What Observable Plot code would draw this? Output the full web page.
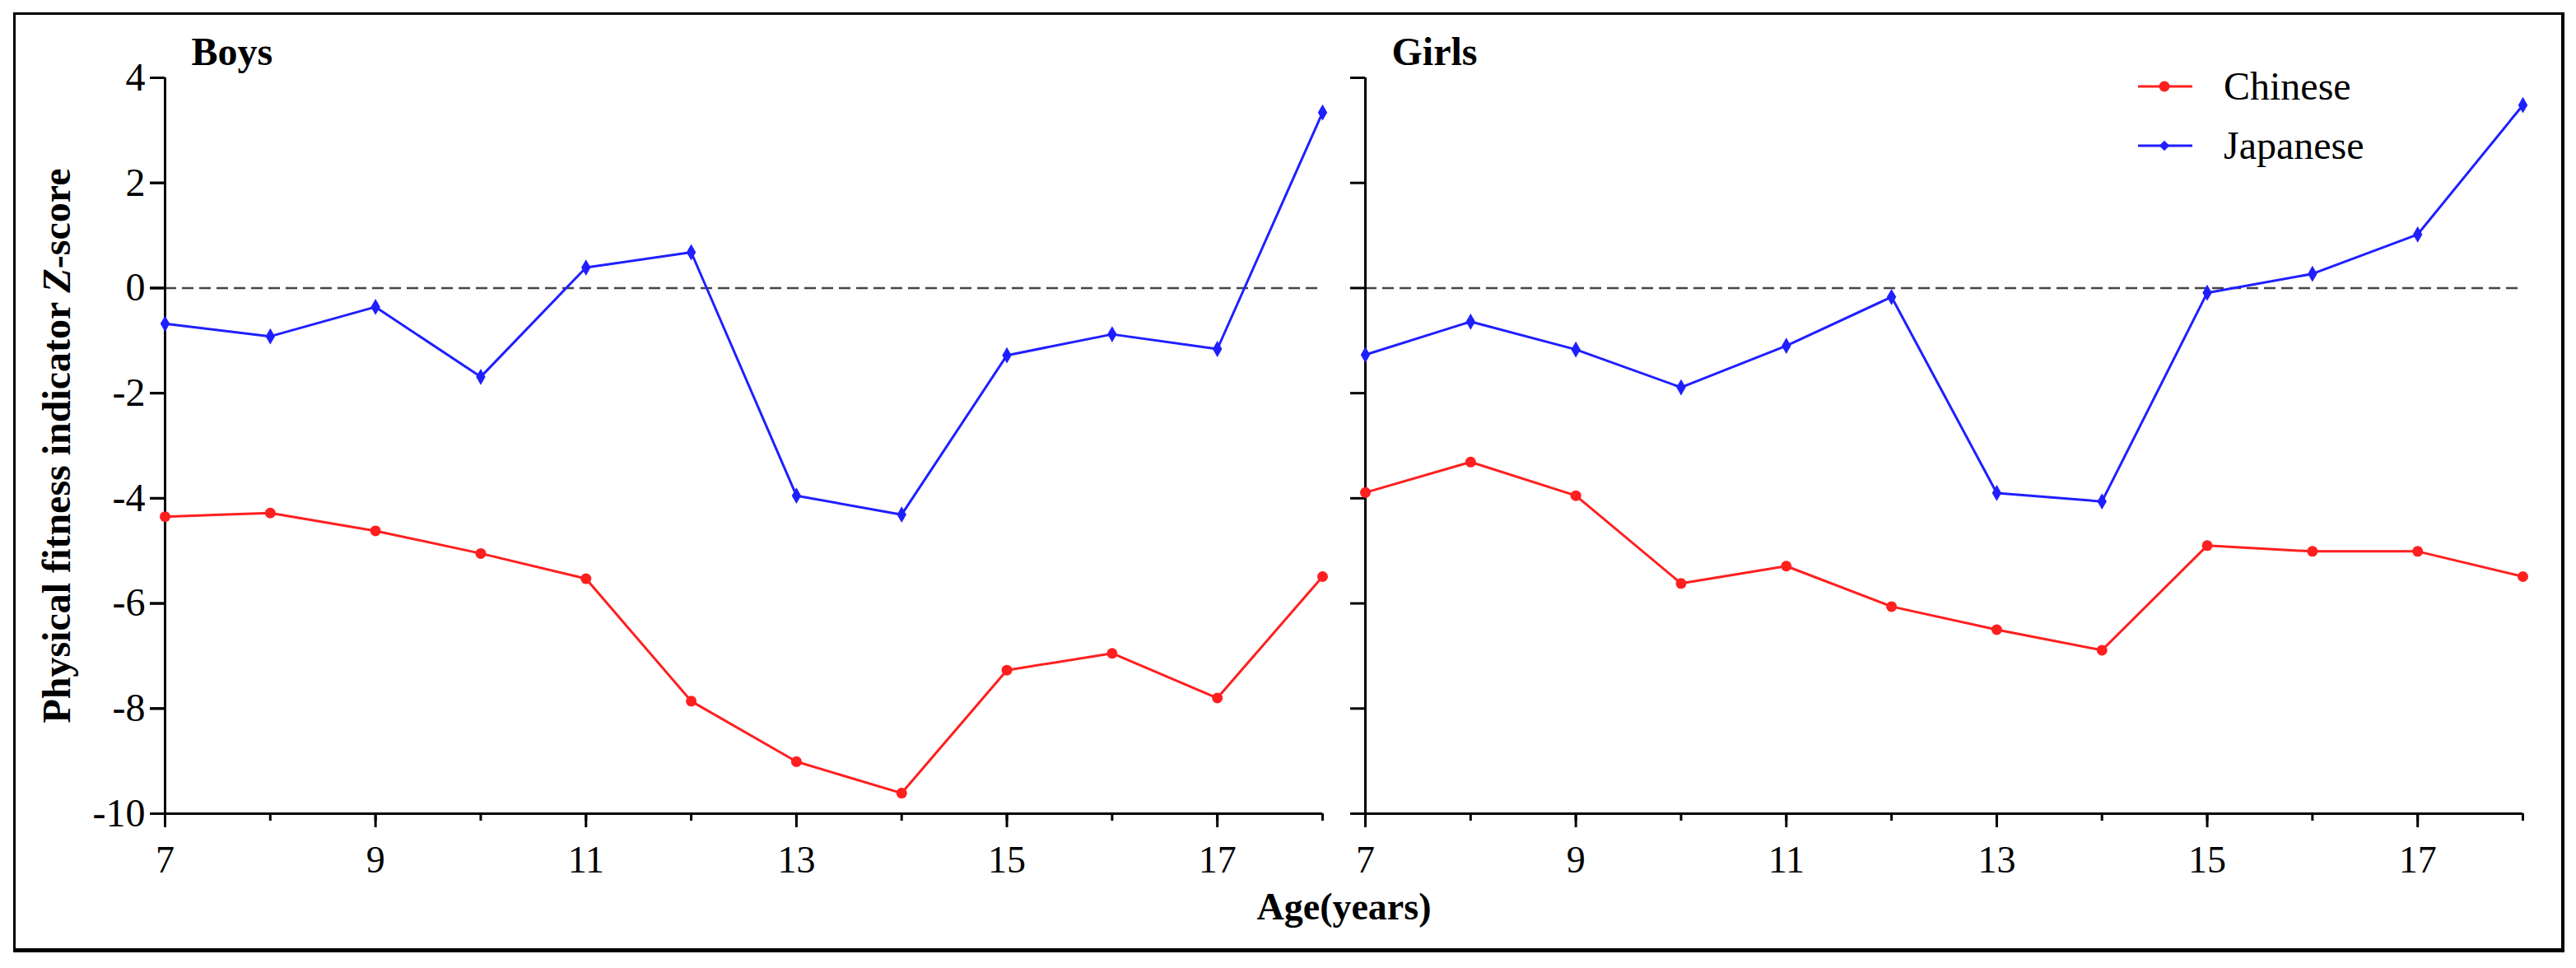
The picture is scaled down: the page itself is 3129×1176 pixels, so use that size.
<!DOCTYPE html>
<html>
<head>
<meta charset="utf-8">
<script src="https://cdn.jsdelivr.net/npm/d3@7"></script>
<script src="https://cdn.jsdelivr.net/npm/@observablehq/plot@0.6"></script>
<style>
  body { margin: 0; background: #fff; }
  #wrap { position: relative; width: 3129px; height: 1176px; font-family: "Liberation Serif", serif; background:#fff; }
  #wrap svg { position: absolute; left: 0; top: 0; }
  #border { position: absolute; left: 16px; top: 15px; width: 3092px; height: 1134px; border: 3px solid #000; border-bottom-width: 5px; border-right-width: 4px; pointer-events: none; }
  #legend { position: absolute; left: 2597px; top: 69px; font-size: 48px; line-height: 72px; font-family: "Liberation Serif", serif; }
  #legend .row { display: flex; align-items: center; height: 72px; }
  #legend svg { position: static; margin-right: 38px; }
</style>
</head>
<body>
<div id="wrap"><div id="border"></div><div id="legend"></div></div>
<script>
// ---- data ----
const ages = [7, 8, 9, 10, 11, 12, 13, 14, 15, 16, 17, 18];
const panels = ["Boys", "Girls"];
const series = ["Chinese", "Japanese"];
const seriesColors = ["#ff1f1f", "#1f1fff"];
const boysChinese   = [-4.35, -4.28, -4.62, -5.05, -5.53, -7.86, -9.01, -9.61, -7.27, -6.95, -7.80, -5.49];
const boysJapanese  = [-0.68, -0.92, -0.36, -1.69, 0.39, 0.68, -3.95, -4.31, -1.28, -0.88, -1.16, 3.34];
const girlsChinese  = [-3.89, -3.31, -3.95, -5.62, -5.29, -6.06, -6.50, -6.89, -4.90, -5.01, -5.01, -5.49];
const girlsJapanese = [-1.27, -0.64, -1.17, -1.89, -1.10, -0.17, -3.90, -4.06, -0.09, 0.27, 1.02, 3.48];
const yTicks = [-10, -8, -6, -4, -2, 0, 2, 4];
const xTickLabels = [7, 9, 11, 13, 15, 17];
const yLabelParts = ["Physical fitness indicator ", "Z", "-score"];
const yLabel = yLabelParts.join("");
const xLabel = "Age(years)";

const table = [
  ["Boys", "Chinese", boysChinese],
  ["Boys", "Japanese", boysJapanese],
  ["Girls", "Chinese", girlsChinese],
  ["Girls", "Japanese", girlsJapanese]
];
const rows = table.flatMap(([panel, s, vals]) => ages.map((age, i) => ({panel, series: s, age, value: vals[i]})));

const font = '"Liberation Serif", serif';
const plain = d => String(d);

const chart = Plot.plot({
  width: 3129,
  height: 1176,
  marginLeft: 200,
  marginRight: 65,
  marginTop: 94,
  marginBottom: 188,
  style: {fontFamily: font, fontSize: "46px", color: "#000", background: "transparent", overflow: "visible"},
  fx: {domain: panels, padding: 0.0357, axis: null, label: null},
  x: {domain: d3.extent(ages)},
  y: {domain: d3.extent(yTicks)},
  color: {domain: series, range: seriesColors},
  marks: [
    Plot.ruleY([0], {stroke: "#444", strokeWidth: 2.5, strokeDasharray: "14,7"}),
    Plot.ruleX([d3.min(ages)], {stroke: "#000", strokeWidth: 3}),
    Plot.ruleY([d3.min(yTicks)], {stroke: "#000", strokeWidth: 3}),
    // y ticks on every panel
    Plot.axisY({facetAnchor: null, ticks: yTicks, tickSize: 18, strokeWidth: 3, tickFormat: () => "", label: null}),
    // y tick labels on left panel
    Plot.axisY({ticks: yTicks, tickSize: 18, tickPadding: 6, strokeWidth: 3, tickFormat: plain, label: null, fontSize: 48}),
    // y label
    Plot.axisY({ticks: yTicks, tickSize: 0, tickFormat: () => "", label: yLabel, labelArrow: "none", labelAnchor: "center", labelOffset: 150, fontWeight: "bold", fontSize: 48}),
    // minor x ticks
    Plot.axisX({ticks: ages, tickSize: 9, strokeWidth: 3, tickFormat: () => "", label: null}),
    // major x ticks + labels
    Plot.axisX({ticks: xTickLabels, tickSize: 17, tickPadding: 22, strokeWidth: 3, tickFormat: plain, label: null, fontSize: 46}),
    // x label
    Plot.axisX({ticks: xTickLabels, tickSize: 0, tickFormat: () => "", label: xLabel, labelArrow: "none", labelAnchor: "center", labelOffset: 128, fontWeight: "bold", fontSize: 46}),
    Plot.line(rows, {fx: "panel", x: "age", y: "value", stroke: "series", strokeWidth: 3}),
    Plot.dot(rows.filter(d => d.series === series[0]), {fx: "panel", x: "age", y: "value", fill: "series", r: 6.5, symbol: "circle"}),
    Plot.dot(rows.filter(d => d.series === series[1]), {fx: "panel", x: "age", y: "value", fill: "series", r: 6, symbol: "diamond"}),
    Plot.text(panels, {fx: d => d, text: d => d, frameAnchor: "top-left", textAnchor: "start", lineAnchor: "bottom", dx: 32, dy: -16, fontWeight: "bold", fontSize: 48})
  ]
});
document.getElementById("wrap").appendChild(chart);

// italic Z in the y label
d3.select(chart).selectAll("text").filter(function() { return this.textContent === yLabel; }).each(function() {
  const t = d3.select(this);
  t.text(null);
  yLabelParts.forEach((p, i) => t.append("tspan").attr("font-style", i === 1 ? "italic" : null).text(p));
});

// legend
const legend = d3.select("#legend");
series.forEach((s, i) => {
  const row = legend.append("div").attr("class", "row");
  const sw = row.append("svg").attr("width", 66).attr("height", 20);
  sw.append("line").attr("x1", 0).attr("x2", 66).attr("y1", 10).attr("y2", 10).attr("stroke", seriesColors[i]).attr("stroke-width", 3);
  if (i === 0) sw.append("circle").attr("cx", 32).attr("cy", 10).attr("r", 6.5).attr("fill", seriesColors[i]);
  else sw.append("path").attr("d", d3.symbol(d3.symbolDiamond2, 100)()).attr("transform", "translate(32,10)").attr("fill", seriesColors[i]);
  row.append("span").text(s);
});
</script>
</body>
</html>
